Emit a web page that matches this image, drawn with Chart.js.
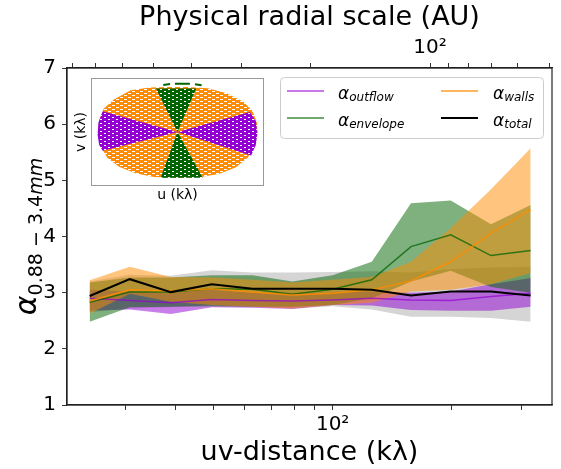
<!DOCTYPE html>
<html>
<head>
<meta charset="utf-8">
<script src="https://cdn.jsdelivr.net/npm/chart.js@4.4.0/dist/chart.umd.min.js"></script>
<style>
  body { margin: 0; background: #fff; }
  #wrap { position: relative; width: 561px; height: 469px; }
  #inset { position: absolute; left: 72px; top: 76px; width: 196px; height: 130px; }
</style>
</head>
<body>
<div id="wrap">
  <canvas id="main" width="561" height="469"></canvas>
  <div id="inset"><canvas id="insetCanvas" width="196" height="130"></canvas></div>
</div>
<script>
// uv-distance bin centres (k lambda)
const uvDist = [24.3, 30.7, 39.0, 49.5, 62.7, 79.1, 100, 125.6, 157.8, 198.9, 251.4, 316.7];

// spectral index per region: mid line and band edges
const outflowMid  = [2.90, 2.86, 2.82, 2.88, 2.86, 2.85, 2.87, 2.90, 2.87, 2.86, 2.93, 2.99];
const outflowLow  = [2.68, 2.70, 2.62, 2.74, 2.73, 2.71, 2.78, 2.77, 2.69, 2.68, 2.68, 2.75];
const outflowHigh = [3.05, 3.02, 3.00, 3.05, 3.00, 3.00, 3.00, 3.02, 3.00, 3.02, 3.15, 3.26];

const envelopeMid  = [2.83, 3.01, 3.01, 3.07, 3.06, 2.97, 3.06, 3.23, 3.82, 4.03, 3.66, 3.75];
const envelopeLow  = [2.48, 2.74, 2.75, 2.76, 2.75, 2.75, 2.78, 2.90, 3.20, 3.39, 3.10, 3.00];
const envelopeHigh = [3.18, 3.27, 3.27, 3.31, 3.31, 3.20, 3.31, 3.55, 4.59, 4.64, 4.22, 4.56];

const wallsMid  = [2.85, 3.05, 3.03, 3.07, 3.01, 2.96, 2.99, 3.05, 3.21, 3.55, 4.06, 4.48];
const wallsLow  = [2.63, 2.98, 2.84, 2.78, 2.75, 2.72, 2.78, 2.82, 3.02, 3.05, 3.15, 3.35];
const wallsHigh = [3.22, 3.46, 3.28, 3.27, 3.23, 3.18, 3.23, 3.28, 3.55, 4.15, 4.84, 5.57];

const totalMid  = [2.94, 3.24, 3.01, 3.15, 3.07, 3.07, 3.07, 3.05, 2.95, 3.02, 3.02, 2.95];
const totalLow  = [2.65, 2.72, 2.74, 2.78, 2.75, 2.72, 2.76, 2.70, 2.57, 2.57, 2.55, 2.48];
const totalHigh = [3.20, 3.32, 3.30, 3.40, 3.36, 3.36, 3.37, 3.38, 3.36, 3.42, 3.45, 3.46];

const legendNames = ['outflow', 'envelope', 'walls', 'total'];

// axes
const uvMin = 21.3, uvMax = 358.6;
const auPerKlambda = 17630;          // AU = 17630 / uv(k lambda)
const bottomTicks = [30, 40, 50, 60, 70, 80, 90, 100, 200, 300];
const topTicks = [50, 60, 70, 80, 90, 100, 200, 300, 400, 500, 600, 700, 800];
const yTicks = [1, 2, 3, 4, 5, 6, 7];

// inset uv coverage, [u, v] in k lambda
const insetWalls = [[-340, 0], [-335, 50], [-315, 100], [-270, 140], [-200, 178], [-120, 190], [-40, 192],
  [40, 192], [130, 186], [210, 165], [280, 130], [320, 90], [340, 40], [342, -10], [330, -60], [300, -110],
  [250, -150], [180, -178], [100, -192], [0, -196], [-100, -192], [-180, -176], [-250, -148], [-300, -110], [-330, -60]];
const insetOutflowLeft = [[0, 0], [-320, 88], [-338, 40], [-342, -10], [-335, -55], [-320, -80]];
const insetOutflowRight = [[0, 0], [310, 85], [335, 45], [342, -5], [335, -55], [315, -100]];
const insetEnvelopeTop = [[0, 0], [-92, 185], [80, 185]];
const insetEnvelopeBottom = [[0, 0], [-72, -195], [108, -195]];
const insetEnvelopeDashes = [
  [[-61, 200], [-32, 204]],
  [[-11, 206], [53, 205]],
  [[75, 203], [103, 199]]
];

const FONT = '"DejaVu Sans", sans-serif';
const C = {
  outflow: 'rgba(148,0,211,0.7)', envelope: 'rgba(0,100,0,0.75)', walls: 'rgba(255,140,0,0.85)', total: '#000',
  outflowBand: 'rgba(148,0,211,0.5)', envelopeBand: 'rgba(0,100,0,0.5)',
  wallsBand: 'rgba(255,140,0,0.5)', totalBand: 'rgba(128,128,128,0.33)'
};

const pts = arr => uvDist.map((x, i) => ({x: x, y: arr[i]}));

function band(hi, lo, color, order) {
  return [
    {data: pts(hi), fill: '+1', backgroundColor: color, borderColor: 'transparent', borderWidth: 0, pointRadius: 0, order: order},
    {data: pts(lo), fill: false, borderColor: 'transparent', borderWidth: 0, pointRadius: 0, order: order}
  ];
}
function line(arr, color, width, order) {
  return {data: pts(arr), fill: false, borderColor: color, borderWidth: width, pointRadius: 0, order: order};
}

const frame = {
  id: 'frame',
  afterDatasetsDraw(chart) {
    const a = chart.chartArea, ctx = chart.ctx;
    ctx.save();
    ctx.strokeStyle = '#222';
    ctx.lineWidth = 1.2;
    ctx.strokeRect(a.left, a.top, a.right - a.left, a.bottom - a.top);
    ctx.restore();
  }
};

const yLabel = {
  id: 'yLabel',
  afterDraw(chart) {
    const ctx = chart.ctx, a = chart.chartArea;
    ctx.save();
    ctx.translate(36, (a.top + a.bottom) / 2);
    ctx.rotate(-Math.PI / 2);
    ctx.fillStyle = '#000';
    ctx.textBaseline = 'alphabetic';
    const fA = 'italic 30px ' + FONT, fS = '19px ' + FONT, fI = 'italic 19px ' + FONT;
    ctx.font = fA; const wA = ctx.measureText('α').width;
    ctx.font = fS; const wS = ctx.measureText('0.88 − 3.4').width;
    ctx.font = fI; const wM = ctx.measureText('mm').width;
    let x = -(wA + wS + wM) / 2;
    ctx.font = fA; ctx.fillText('α', x, 0); x += wA;
    ctx.font = fS; ctx.fillText('0.88 − 3.4', x, 6); x += wS;
    ctx.font = fI; ctx.fillText('mm', x, 6);
    ctx.restore();
  }
};

const legendBox = {
  id: 'legendBox',
  afterDraw(chart) {
    const ctx = chart.ctx;
    const colors = [C.outflow, C.envelope, C.walls, C.total];
    const widths = [1.5, 1.5, 1.5, 2];
    ctx.save();
    ctx.beginPath();
    ctx.roundRect(280.5, 77.5, 263, 61, 4);
    ctx.fillStyle = 'rgba(255,255,255,0.8)';
    ctx.fill();
    ctx.strokeStyle = '#cccccc';
    ctx.lineWidth = 1;
    ctx.stroke();
    legendNames.forEach((name, i) => {
      const col = i < 2 ? 0 : 1, row = i % 2;
      const lx = col ? 441 : 287, tx = col ? 493 : 338, ly = row ? 118 : 91;
      ctx.beginPath();
      ctx.moveTo(lx, ly); ctx.lineTo(lx + 37, ly);
      ctx.strokeStyle = colors[i]; ctx.lineWidth = widths[i];
      ctx.stroke();
      ctx.fillStyle = '#000';
      ctx.textBaseline = 'alphabetic';
      ctx.font = 'italic 17px ' + FONT;
      ctx.fillText('α', tx, ly + 8);
      const w = ctx.measureText('α').width;
      ctx.font = 'italic 12px ' + FONT;
      ctx.fillText(name, tx + w, ly + 10);
    });
    ctx.restore();
  }
};

const tickGrid = {drawOnChartArea: false, drawTicks: true, tickLength: 5, color: '#333', tickColor: '#333'};

new Chart(document.getElementById('main'), {
  type: 'line',
  data: {
    datasets: [
      ...band(totalHigh, totalLow, C.totalBand, 12),
      ...band(outflowHigh, outflowLow, C.outflowBand, 11),
      ...band(envelopeHigh, envelopeLow, C.envelopeBand, 10),
      ...band(wallsHigh, wallsLow, C.wallsBand, 9),
      line(outflowMid, C.outflow, 1.5, 4),
      line(envelopeMid, C.envelope, 1.5, 3),
      line(wallsMid, C.walls, 1.5, 2),
      line(totalMid, C.total, 2, 1)
    ]
  },
  options: {
    responsive: false,
    animation: false,
    events: [],
    layout: {padding: {left: 0, right: 9, top: 0, bottom: 0}},
    plugins: {legend: {display: false}, tooltip: {enabled: false}},
    scales: {
      x: {
        type: 'logarithmic', position: 'bottom', min: uvMin, max: uvMax, bounds: 'data',
        afterBuildTicks: s => { s.ticks = bottomTicks.map(v => ({value: v})); },
        afterFit: s => { s.height = 64; },
        grid: tickGrid,
        border: {color: '#222', width: 1.2},
        ticks: {autoSkip: false, maxRotation: 0, padding: 3, color: '#000', font: {family: FONT, size: 20},
          callback: v => (v === 100 ? '10²' : '')},
        title: {display: true, text: 'uv-distance (kλ)', color: '#000', font: {family: FONT, size: 27}, padding: {top: 0, bottom: 0}}
      },
      x2: {
        type: 'logarithmic', position: 'top', reverse: true, bounds: 'data',
        min: auPerKlambda / uvMax, max: auPerKlambda / uvMin,
        afterBuildTicks: s => { s.ticks = topTicks.map(v => ({value: v})); },
        afterFit: s => { s.height = 68; },
        grid: tickGrid,
        border: {color: '#222', width: 1.2},
        ticks: {autoSkip: false, maxRotation: 0, padding: 3, color: '#000', font: {family: FONT, size: 20},
          callback: v => (v === 100 ? '10²' : '')},
        title: {display: true, text: 'Physical radial scale (AU)', color: '#000', font: {family: FONT, size: 27}, padding: {top: 2, bottom: 0}}
      },
      y: {
        min: 1, max: 7,
        afterBuildTicks: s => { s.ticks = yTicks.map(v => ({value: v})); },
        afterFit: s => { s.width = 67; },
        grid: tickGrid,
        border: {color: '#222', width: 1.2},
        ticks: {padding: 6, color: '#000', font: {family: FONT, size: 20}}
      }
    }
  },
  plugins: [frame, yLabel, legendBox]
});

// ---- inset: uv coverage ----
const insetCanvas = document.getElementById('insetCanvas');
function streaks(color, gap) {
  const c = document.createElement('canvas');
  c.width = 8; c.height = 4;
  const g = c.getContext('2d');
  g.fillStyle = color; g.fillRect(0, 0, 8, 4);
  g.fillStyle = '#fff';
  g.fillRect(0, 1, gap, 1);
  g.fillRect(4, 3, gap, 1);
  return insetCanvas.getContext('2d').createPattern(c, 'repeat');
}
const xy = arr => arr.map(p => ({x: p[0], y: p[1]}));
function shape(arr, fillStyle, order) {
  return {data: xy(arr.concat([arr[0]])), showLine: true, fill: 'shape', backgroundColor: fillStyle,
    borderColor: 'transparent', borderWidth: 0, pointRadius: 0, order: order};
}

const insetFrame = {
  id: 'insetFrame',
  beforeDatasetsDraw(chart) {
    const a = chart.chartArea, ctx = chart.ctx;
    ctx.save(); ctx.fillStyle = '#fff';
    ctx.fillRect(a.left, a.top, a.right - a.left, a.bottom - a.top);
    ctx.restore();
  },
  afterDatasetsDraw(chart) {
    const a = chart.chartArea, ctx = chart.ctx;
    ctx.save(); ctx.strokeStyle = '#999'; ctx.lineWidth = 1;
    ctx.strokeRect(a.left + 0.5, a.top + 0.5, a.right - a.left - 1, a.bottom - a.top - 1);
    ctx.restore();
  }
};

const wallsPat = streaks('#ff8c00', 3);
const outflowPat = streaks('#9400d3', 2);
const envPat = streaks('#006400', 2);

new Chart(insetCanvas, {
  type: 'scatter',
  data: {
    datasets: [
      shape(insetWalls, wallsPat, 5),
      shape(insetOutflowLeft, outflowPat, 4),
      shape(insetOutflowRight, outflowPat, 4),
      shape(insetEnvelopeTop, envPat, 3),
      shape(insetEnvelopeBottom, envPat, 3),
      ...insetEnvelopeDashes.map(seg => ({data: xy(seg), showLine: true, fill: false, borderColor: '#006400',
        borderWidth: 2, pointRadius: 0, order: 2}))
    ]
  },
  options: {
    responsive: false,
    animation: false,
    events: [],
    layout: {padding: {left: 0, right: 4, top: 2, bottom: 0}},
    plugins: {legend: {display: false}, tooltip: {enabled: false}},
    scales: {
      x: {
        min: -370, max: 370,
        afterFit: s => { s.height = 20; },
        grid: {display: false}, border: {display: false}, ticks: {display: false},
        title: {display: true, text: 'u (kλ)', color: '#000', font: {family: FONT, size: 14}, padding: {top: 0, bottom: 2}}
      },
      y: {
        min: -230, max: 230,
        afterFit: s => { s.width = 19; },
        grid: {display: false}, border: {display: false}, ticks: {display: false},
        title: {display: true, text: 'v (kλ)', color: '#000', font: {family: FONT, size: 14}, padding: {top: 1, bottom: 0}}
      }
    }
  },
  plugins: [insetFrame]
});
</script>
</body>
</html>
